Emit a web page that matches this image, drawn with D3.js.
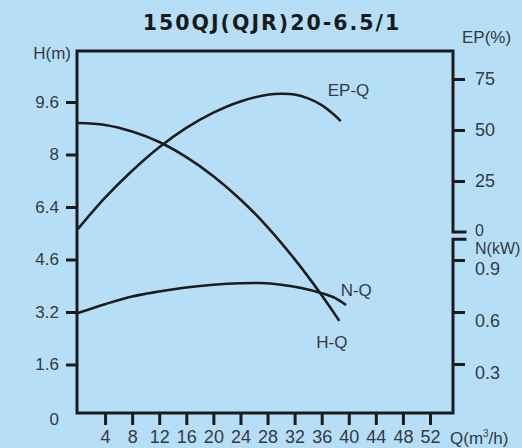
<!DOCTYPE html>
<html>
<head>
<meta charset="utf-8">
<script src="https://cdn.jsdelivr.net/npm/d3@7/dist/d3.min.js"></script>
<style>
  html, body { margin: 0; padding: 0; background: #b6dff7; overflow: hidden; }
  svg { display: block; font-family: "Liberation Sans", Arial, sans-serif; }
</style>
</head>
<body>
<svg id="chart" width="522" height="448"></svg>
<script>
// Pump performance curves: head, efficiency and shaft power against flow.
const title = "150QJ(QJR)20-6.5/1";

// Flow ticks (m³/h)
const qTicks = [4, 8, 12, 16, 20, 24, 28, 32, 36, 40, 44, 48, 52];

// Head axis (m)
const hTicks = [0, 1.6, 3.2, 4.8, 6.4, 8, 9.6];
const hTickLabels = ["0", "1.6", "3.2", "4.6", "6.4", "8", "9.6"];

// Efficiency axis (%)
const epTicks = [0, 25, 50, 75];

// Power axis (kW)
const nTicks = [0.3, 0.6, 0.9];
const nAxisTop = 1.02;

// H-Q curve
const hFlow = [0, 4, 8, 12, 16, 20, 24, 28, 32, 36, 38.6];
const hHead = [8.96, 8.90, 8.70, 8.38, 7.92, 7.34, 6.63, 5.79, 4.81, 3.71, 2.93];

// EP-Q curve
const epFlow = [0, 4, 8, 12, 16, 20, 24, 28, 30, 32, 34, 36, 38, 38.8];
const epEff = [1.5, 16.8, 30, 41.5, 51, 58.5, 64, 67.3, 67.8, 67.4, 65.5, 62.2, 57, 54.4];

// N-Q curve
const nFlow = [0, 4, 8, 12, 16, 20, 24, 27, 30, 33, 36, 38, 39.6];
const nPower = [0.594, 0.645, 0.69, 0.718, 0.741, 0.757, 0.766, 0.767, 0.757, 0.738, 0.708, 0.68, 0.64];

const ink = "#1c1c1c";
const textInk = "#333a40";

const svg = d3.select("#chart");
const frame = { left: 77, right: 453, top: 51, bottom: 413 };

const x = d3.scaleLinear().domain([0, 52]).range([78, 430]);
const yH = d3.scaleLinear().domain([0, 9.6]).range([417, 102]);
const yEP = d3.scaleLinear().domain([0, 75]).range([232, 79]);
const yN = d3.scaleLinear().domain([0, 0.9]).range([416, 260]);

// Title
svg.append("text")
  .attr("x", 272).attr("y", 30)
  .attr("text-anchor", "middle")
  .attr("font-family", "'DejaVu Sans', sans-serif")
  .attr("font-size", 20.5).attr("font-weight", "bold")
  .attr("letter-spacing", 2)
  .attr("fill", "#1a1a1a")
  .text(title);

// Frame: left, top, bottom and the split right axis
const fr = d3.path();
fr.moveTo(frame.left, frame.bottom);
fr.lineTo(frame.left, frame.top);
fr.lineTo(frame.right, frame.top);
fr.lineTo(frame.right, yEP(0));
fr.lineTo(frame.right + 12, yEP(0));
fr.moveTo(frame.right + 12, yN(nAxisTop));
fr.lineTo(frame.right, yN(nAxisTop));
fr.lineTo(frame.right, frame.bottom);
fr.lineTo(frame.left, frame.bottom);
svg.append("path")
  .attr("d", fr.toString())
  .attr("fill", "none").attr("stroke", ink)
  .attr("stroke-width", 3).attr("stroke-linejoin", "miter").attr("stroke-linecap", "square");

function styleAxis(g, size) {
  g.select(".domain").remove();
  g.selectAll(".tick line").attr("stroke", ink).attr("stroke-width", 3);
  g.selectAll(".tick text")
    .attr("fill", textInk)
    .attr("font-size", size)
    .attr("font-family", "'Liberation Sans', Arial, sans-serif");
}

// Left axis (head)
const gH = svg.append("g")
  .attr("transform", `translate(${frame.left},0)`)
  .call(d3.axisLeft(yH).tickValues(hTicks)
    .tickFormat((d, i) => hTickLabels[i]).tickSize(11).tickPadding(7));
styleAxis(gH, 17);
gH.selectAll(".tick").filter(d => d === 0).select("line").remove();
gH.selectAll(".tick").filter(d => d === 0).select("text").attr("dy", "0.45em");

// Bottom axis (flow)
const gQ = svg.append("g")
  .attr("transform", `translate(0,${frame.bottom})`)
  .call(d3.axisBottom(x).tickValues(qTicks).tickSize(12).tickPadding(5));
styleAxis(gQ, 18);

// Right axis, upper part (efficiency)
const gEP = svg.append("g")
  .attr("transform", `translate(${frame.right},0)`)
  .call(d3.axisRight(yEP).tickValues(epTicks).tickSize(12).tickPadding(10));
styleAxis(gEP, 18);
gEP.selectAll(".tick").filter(d => d === 0).select("line").remove();
gEP.selectAll(".tick").filter(d => d === 0).select("text").attr("font-size", 16).attr("dy", "0.2em");

// Right axis, lower part (power)
const gN = svg.append("g")
  .attr("transform", `translate(${frame.right},0)`)
  .call(d3.axisRight(yN).tickValues(nTicks).tickSize(12).tickPadding(10));
styleAxis(gN, 18);
gN.selectAll(".tick text").attr("dy", "0.8em");

// Axis titles
svg.append("text").attr("x", 71).attr("y", 59)
  .attr("text-anchor", "end").attr("font-size", 17).attr("fill", textInk).text("H(m)");
svg.append("text").attr("x", 462).attr("y", 43)
  .attr("font-size", 17).attr("fill", textInk).text("EP(%)");
svg.append("text").attr("x", 475).attr("y", 254)
  .attr("font-size", 16).attr("fill", textInk).text("N(kW)");
const qLabel = svg.append("text").attr("x", 450).attr("y", 444)
  .attr("font-size", 17).attr("fill", textInk);
qLabel.append("tspan").text("Q(m");
qLabel.append("tspan").attr("font-size", 10).attr("dy", -7).text("3");
qLabel.append("tspan").attr("dy", 7).text("/h)");

// Curves
const curve = d3.curveCatmullRom.alpha(0.5);
function drawCurve(qs, vs, yScale) {
  const pts = qs.map((q, i) => [q, vs[i]]);
  svg.append("path")
    .datum(pts)
    .attr("fill", "none").attr("stroke", ink).attr("stroke-width", 2.6)
    .attr("d", d3.line().x(d => x(d[0])).y(d => yScale(d[1])).curve(curve));
}
drawCurve(hFlow, hHead, yH);
drawCurve(epFlow, epEff, yEP);
drawCurve(nFlow, nPower, yN);

// Curve names
function curveLabel(txt, px, py) {
  svg.append("text").attr("x", px).attr("y", py)
    .attr("font-size", 17).attr("fill", textInk).text(txt);
}
curveLabel("EP-Q", x(36.9), yEP(66.8));
curveLabel("N-Q", x(38.8), yN(0.69));
curveLabel("H-Q", x(35.2), yH(2.1));
</script>
</body>
</html>
